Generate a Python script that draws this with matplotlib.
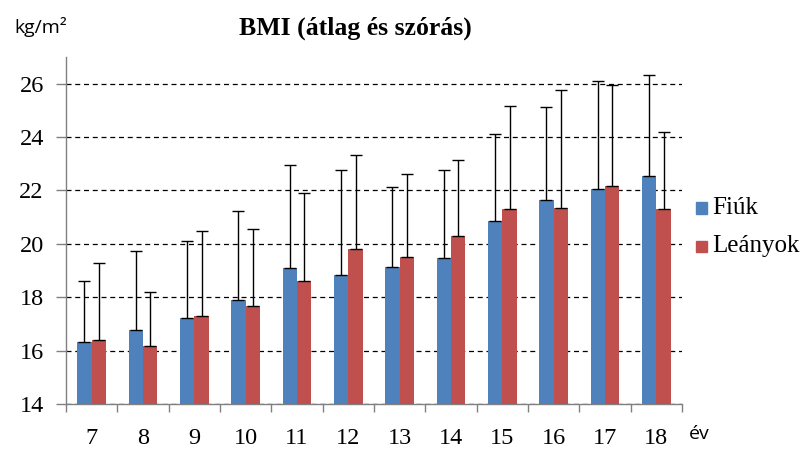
import matplotlib
matplotlib.use("Agg")
import matplotlib.pyplot as plt
import numpy as np
from matplotlib.patches import Rectangle

ages = ["7", "8", "9", "10", "11", "12", "13", "14", "15", "16", "17", "18"]
fiuk_mean = [16.32, 16.77, 17.21, 17.89, 19.08, 18.82, 19.12, 19.46, 20.84, 21.63, 22.07, 22.56]
fiuk_sd = [2.28, 2.98, 2.91, 3.35, 3.88, 3.96, 3.02, 3.29, 3.29, 3.50, 4.03, 3.76]
leany_mean = [16.39, 16.17, 17.29, 17.66, 18.60, 19.79, 19.50, 20.28, 21.29, 21.36, 22.15, 21.29]
leany_sd = [2.88, 2.04, 3.20, 2.91, 3.31, 3.54, 3.12, 2.87, 3.89, 4.40, 3.81, 2.90]

blue = "#4F81BD"
red = "#C0504D"
serif = ["Liberation Serif", "DejaVu Serif"]
sans = ["Open Sans", "DejaVu Sans"]

fig = plt.figure(figsize=(8.08, 4.5), dpi=100)
ax = fig.add_axes([66/808, 1-404/450, (682-66)/808, (404-57)/450])

x = np.arange(len(ages))
w = 0.28
ax.bar(x - w/2, fiuk_mean, w, color=blue, zorder=3, label="Fiúk")
ax.bar(x + w/2, leany_mean, w, color=red, zorder=3, label="Leányok")
ax.errorbar(x - w/2, fiuk_mean, yerr=[np.zeros(len(ages)), fiuk_sd], fmt="none",
            ecolor="black", elinewidth=1.0, capsize=4.5, capthick=1.0, zorder=4)
ax.errorbar(x + w/2, leany_mean, yerr=[np.zeros(len(ages)), leany_sd], fmt="none",
            ecolor="black", elinewidth=1.0, capsize=4.5, capthick=1.0, zorder=4)

ax.set_xlim(-0.5, len(ages) - 0.5)
ax.set_ylim(14, 27)
ax.set_yticks([14, 16, 18, 20, 22, 24, 26])
ax.set_yticklabels(["14", "16", "18", "20", "22", "24", "26"], fontfamily=serif, fontsize=17.5)
ax.yaxis.grid(True, linestyle=(0, (4, 3)), color="black", linewidth=0.9, zorder=0)
ax.set_axisbelow(True)

ax.set_xticks(np.arange(-0.5, len(ages), 1.0))
ax.set_xticklabels([])
ax.set_xticks(x, minor=True)
ax.set_xticklabels(ages, minor=True, fontfamily=serif, fontsize=17.5)
ax.tick_params(axis="x", which="major", length=6, color="#808080", width=1)
ax.tick_params(axis="x", which="minor", length=0, pad=17)
ax.tick_params(axis="y", length=7, color="#808080", width=1, pad=9)

for s in ["top", "right"]:
    ax.spines[s].set_visible(False)
for s in ["left", "bottom"]:
    ax.spines[s].set_color("#808080")
    ax.spines[s].set_linewidth(1)

fig.text(355/808, 1-28/450, "BMI (átlag és szórás)", fontfamily=serif, fontsize=18.5,
         fontweight="bold", ha="center", va="center")
fig.text(14/808, 1-27/450, "kg/m²", fontfamily=sans, fontsize=14, ha="left", va="center")
fig.text(689/808, 1-434/450, "év", fontfamily=sans, fontsize=14, ha="left", va="center")

# legend
for yy, col, lab in [(208, blue, "Fiúk"), (246, red, "Leányok")]:
    fig.patches.append(Rectangle((696/808, 1-(yy+5.5)/450), 11/808, 11/450,
                                 transform=fig.transFigure, color=col))
    fig.text(712/808, 1-yy/450, lab, fontfamily=serif, fontsize=18, ha="left", va="center")

fig.savefig("out.png", dpi=100)
